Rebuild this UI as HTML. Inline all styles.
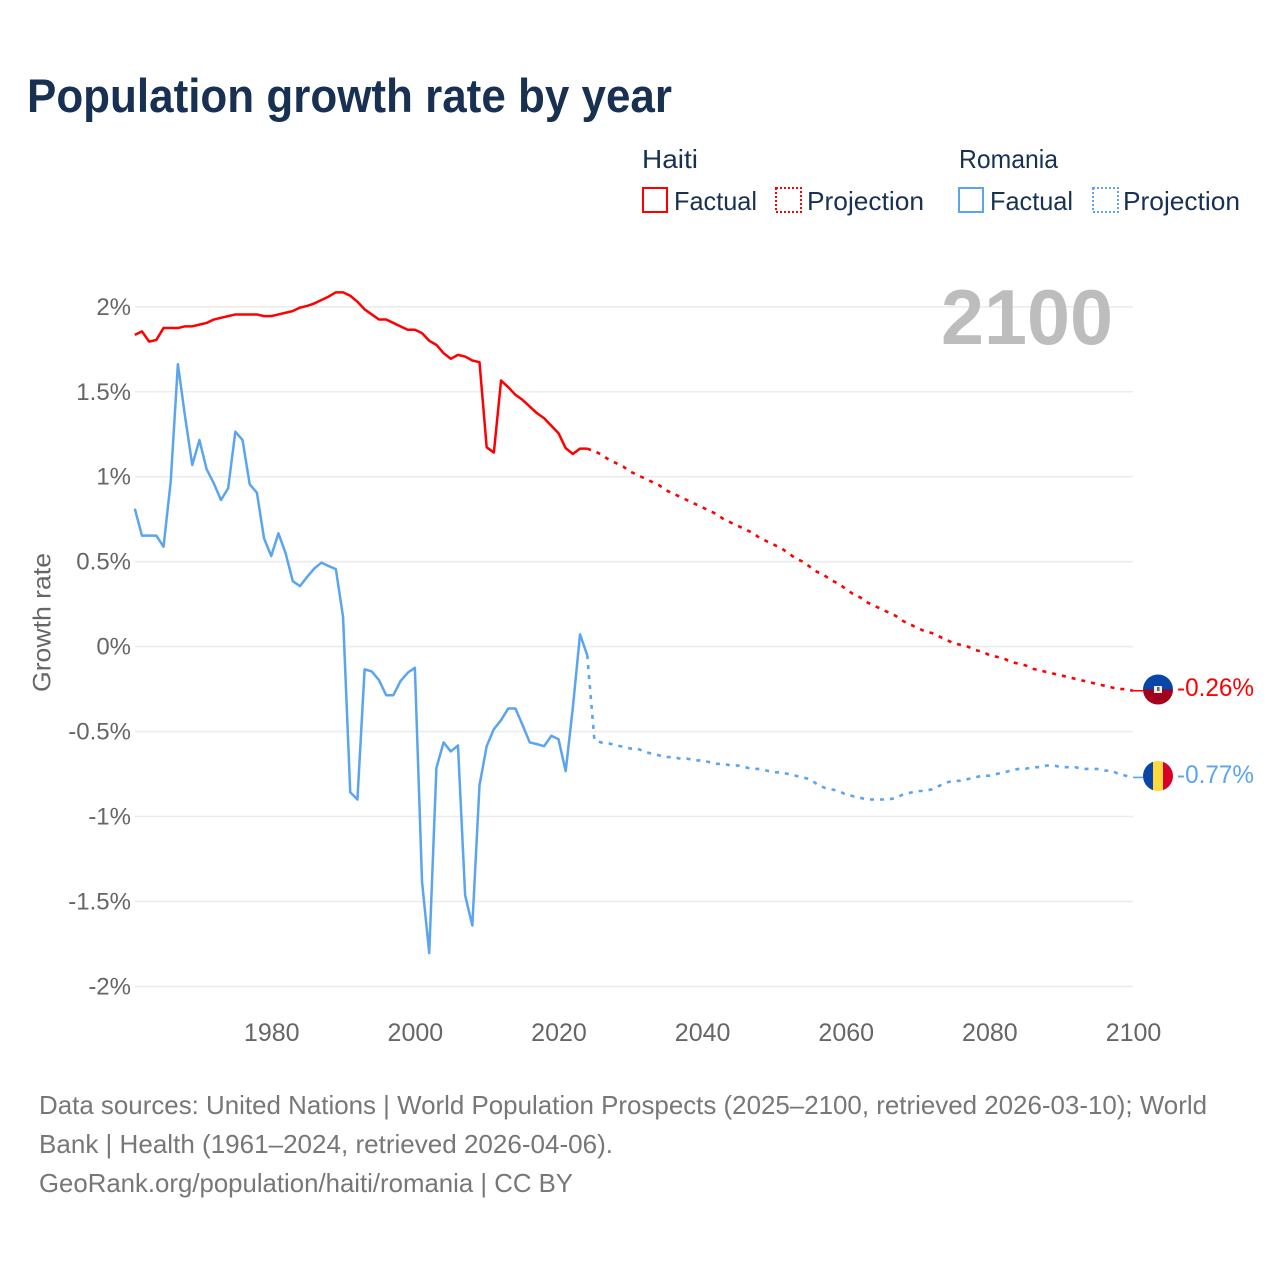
<!DOCTYPE html>
<html lang="en">
<head>
<meta charset="utf-8">
<title>Population growth rate by year</title>
<style>
html,body{margin:0;padding:0;background:#fff;}
svg{display:block;font-family:"Liberation Sans",sans-serif;}
</style>
</head>
<body>
<svg id="chart" xmlns="http://www.w3.org/2000/svg" width="1280" height="1280" viewBox="0 0 1280 1280">
  <defs>
    <clipPath id="clip-haiti"><circle cx="1158" cy="689.5" r="15"/></clipPath>
    <clipPath id="clip-romania"><circle cx="1158" cy="776" r="15"/></clipPath>
  </defs>
  <rect x="0" y="0" width="1280" height="1280" fill="#fff"/>

  <text x="27" y="112" font-size="47" font-weight="700" fill="#183153" textLength="645" lengthAdjust="spacingAndGlyphs">Population growth rate by year</text>

  <g font-size="26" fill="#183153">
    <text x="642" y="168" textLength="56" lengthAdjust="spacingAndGlyphs">Haiti</text>
    <text x="959" y="168" textLength="99" lengthAdjust="spacingAndGlyphs">Romania</text>
    <rect x="643" y="188" width="24" height="24" fill="none" stroke="#ff0000" stroke-width="2"/>
    <text x="674" y="210" textLength="83" lengthAdjust="spacingAndGlyphs">Factual</text>
    <rect x="776" y="188" width="25" height="24" fill="none" stroke="#ff0000" stroke-width="2" stroke-dasharray="2 2"/>
    <text x="807" y="210" textLength="117" lengthAdjust="spacingAndGlyphs">Projection</text>
    <rect x="959" y="188" width="24" height="24" fill="none" stroke="#5ba4ee" stroke-width="2"/>
    <text x="990" y="210" textLength="83" lengthAdjust="spacingAndGlyphs">Factual</text>
    <rect x="1093" y="188" width="25" height="24" fill="none" stroke="#5ba4ee" stroke-width="2" stroke-dasharray="2 2"/>
    <text x="1123" y="210" textLength="117" lengthAdjust="spacingAndGlyphs">Projection</text>
  </g>

  <g id="grid"></g>
  <text x="941" y="344" font-size="78" font-weight="700" fill="#bdbdbd" textLength="172" lengthAdjust="spacingAndGlyphs">2100</text>
  <g id="y-axis"></g>
  <g id="x-axis"></g>
  <text transform="translate(50.5,692) rotate(-90)" font-size="25" fill="#666" textLength="139" lengthAdjust="spacingAndGlyphs">Growth rate</text>

  <g id="series"></g>

  <g clip-path="url(#clip-haiti)">
    <rect x="1143" y="674" width="30" height="15.5" fill="#0a46a8"/>
    <rect x="1143" y="689.5" width="30" height="16" fill="#a2001d"/>
    <rect x="1154" y="686" width="8" height="7" fill="#eee"/>
    <rect x="1157" y="687" width="2.5" height="4" fill="#5c6f4a"/>
  </g>
  <g clip-path="url(#clip-romania)">
    <rect x="1143" y="761" width="10" height="30" fill="#0a46a8"/>
    <rect x="1153" y="761" width="10" height="30" fill="#ffd83d"/>
    <rect x="1163" y="761" width="10" height="30" fill="#d80027"/>
  </g>
  <text x="1177" y="696" font-size="25" fill="#ff0000" textLength="77" lengthAdjust="spacingAndGlyphs">-0.26%</text>
  <text x="1177" y="783" font-size="25" fill="#5ba4ee" textLength="77" lengthAdjust="spacingAndGlyphs">-0.77%</text>

  <g font-size="26" fill="#777">
    <text x="39" y="1114" textLength="1168" lengthAdjust="spacingAndGlyphs">Data sources: United Nations | World Population Prospects (2025–2100, retrieved 2026-03-10); World</text>
    <text x="39" y="1153" textLength="574" lengthAdjust="spacingAndGlyphs">Bank | Health (1961–2024, retrieved 2026-04-06).</text>
    <text x="39" y="1192" textLength="534" lengthAdjust="spacingAndGlyphs">GeoRank.org/population/haiti/romania | CC BY</text>
  </g>
</svg>
<script>
const firstFactualYear = 1961;
const firstProjectionYear = 2024;
const yTickValues = [2, 1.5, 1, 0.5, 0, -0.5, -1, -1.5, -2];
const yTickLabels = ["2%", "1.5%", "1%", "0.5%", "0%", "-0.5%", "-1%", "-1.5%", "-2%"];
const xTickYears = [1980, 2000, 2020, 2040, 2060, 2080, 2100];

const haitiFactual = [1.835,1.855,1.795,1.805,1.875,1.875,1.875,1.885,1.885,1.895,1.905,1.925,1.935,1.945,1.955,1.955,1.955,1.955,1.945,1.945,1.955,1.965,1.975,1.995,2.005,2.02,2.04,2.06,2.085,2.085,2.065,2.03,1.985,1.955,1.925,1.925,1.905,1.885,1.865,1.865,1.845,1.80,1.776,1.727,1.694,1.717,1.707,1.684,1.674,1.173,1.142,1.566,1.527,1.482,1.452,1.413,1.374,1.344,1.30,1.256,1.168,1.134,1.165,1.165];
const haitiProjection = [1.165,1.15,1.13,1.10,1.08,1.06,1.03,1.01,0.99,0.97,0.95,0.92,0.90,0.88,0.86,0.84,0.82,0.80,0.78,0.75,0.73,0.71,0.69,0.67,0.64,0.62,0.60,0.58,0.55,0.52,0.50,0.47,0.44,0.42,0.39,0.37,0.34,0.31,0.29,0.26,0.24,0.22,0.20,0.18,0.15,0.13,0.11,0.09,0.08,0.06,0.04,0.02,0.01,0,-0.02,-0.03,-0.05,-0.06,-0.07,-0.09,-0.10,-0.11,-0.13,-0.14,-0.15,-0.16,-0.17,-0.18,-0.19,-0.20,-0.21,-0.22,-0.23,-0.24,-0.25,-0.25,-0.26];
const romaniaFactual = [0.812,0.653,0.653,0.653,0.588,0.971,1.662,1.354,1.069,1.216,1.044,0.961,0.863,0.932,1.265,1.216,0.955,0.906,0.637,0.533,0.667,0.549,0.385,0.356,0.41,0.46,0.494,0.474,0.456,0.174,-0.857,-0.90,-0.134,-0.146,-0.197,-0.286,-0.286,-0.203,-0.154,-0.125,-1.385,-1.804,-0.714,-0.564,-0.617,-0.582,-1.464,-1.642,-0.816,-0.586,-0.486,-0.433,-0.364,-0.364,-0.462,-0.564,-0.574,-0.586,-0.525,-0.545,-0.733,-0.358,0.072,-0.05];
const romaniaProjection = [-0.05,-0.55,-0.565,-0.57,-0.58,-0.59,-0.60,-0.60,-0.62,-0.63,-0.64,-0.65,-0.65,-0.66,-0.66,-0.67,-0.67,-0.68,-0.69,-0.69,-0.70,-0.70,-0.71,-0.72,-0.72,-0.73,-0.74,-0.74,-0.75,-0.76,-0.77,-0.78,-0.81,-0.83,-0.84,-0.85,-0.87,-0.88,-0.89,-0.90,-0.90,-0.90,-0.90,-0.89,-0.87,-0.86,-0.85,-0.85,-0.84,-0.82,-0.80,-0.79,-0.79,-0.78,-0.77,-0.76,-0.76,-0.75,-0.74,-0.73,-0.72,-0.72,-0.71,-0.71,-0.70,-0.70,-0.71,-0.71,-0.71,-0.72,-0.72,-0.72,-0.73,-0.73,-0.75,-0.76,-0.77];

const SVG_NS = "http://www.w3.org/2000/svg";
const RED = "#ff0000";
const BLUE = "#5ba4ee";

function xScale(year) {
  return 134.8 + (year - 1961) * (1133 - 134.8) / (2100 - 1961);
}
function yScale(value) {
  return 646.6 - value * 169.9;
}
function makeEl(tag, attrs) {
  const el = document.createElementNS(SVG_NS, tag);
  for (const key in attrs) {
    el.setAttribute(key, attrs[key]);
  }
  return el;
}
function pathFor(values, startYear) {
  return values.map(function (v, i) {
    return (i ? "L" : "M") + xScale(startYear + i).toFixed(2) + " " + yScale(v).toFixed(2);
  }).join("");
}

const gridGroup = document.getElementById("grid");
const yAxisGroup = document.getElementById("y-axis");
const xAxisGroup = document.getElementById("x-axis");
const seriesGroup = document.getElementById("series");

yTickValues.forEach(function (value, i) {
  const line = makeEl("line", { x1: 135, x2: 1133, y1: yScale(value), y2: yScale(value), stroke: "#ececec", "stroke-width": 1.6 });
  
  
  gridGroup.appendChild(line);

  const label = makeEl("text", { x: 131, y: yScale(value) + 8, "text-anchor": "end", "font-size": 24, fill: "#666" });
  
  
  label.textContent = yTickLabels[i];
  yAxisGroup.appendChild(label);
});

xTickYears.forEach(function (year) {
  const label = makeEl("text", { x: xScale(year) + 0.5, y: 1041, "text-anchor": "middle", "font-size": 25, fill: "#666" });
  
  
  label.textContent = String(year);
  xAxisGroup.appendChild(label);
});

function drawSeries(factual, projection, color, nameStem) {
  const projectionLine = makeEl("path", { d: pathFor(projection, firstProjectionYear), fill: "none", stroke: color, "stroke-width": 2.6, "stroke-dasharray": "4 6", "stroke-linejoin": "round" });
  
  
  projectionLine.setAttribute('data-series', nameStem + '-projection');
  seriesGroup.appendChild(projectionLine);

  const factualLine = makeEl("path", { d: pathFor(factual, firstFactualYear), fill: "none", stroke: color, "stroke-width": 2.5, "stroke-linejoin": "round" });
  
  
  factualLine.setAttribute('data-series', nameStem + '-factual');
  seriesGroup.appendChild(factualLine);

  const lastValue = projection[projection.length - 1];
  const lastYear = firstProjectionYear + projection.length - 1;
  const leader = makeEl("line", { x1: xScale(lastYear), x2: 1143, y1: yScale(lastValue), y2: yScale(lastValue), stroke: color, "stroke-width": 1.6 });
  
  
  seriesGroup.appendChild(leader);
}

drawSeries(romaniaFactual, romaniaProjection, BLUE, "romania");
drawSeries(haitiFactual, haitiProjection, RED, "haiti");
</script>
</body>
</html>
